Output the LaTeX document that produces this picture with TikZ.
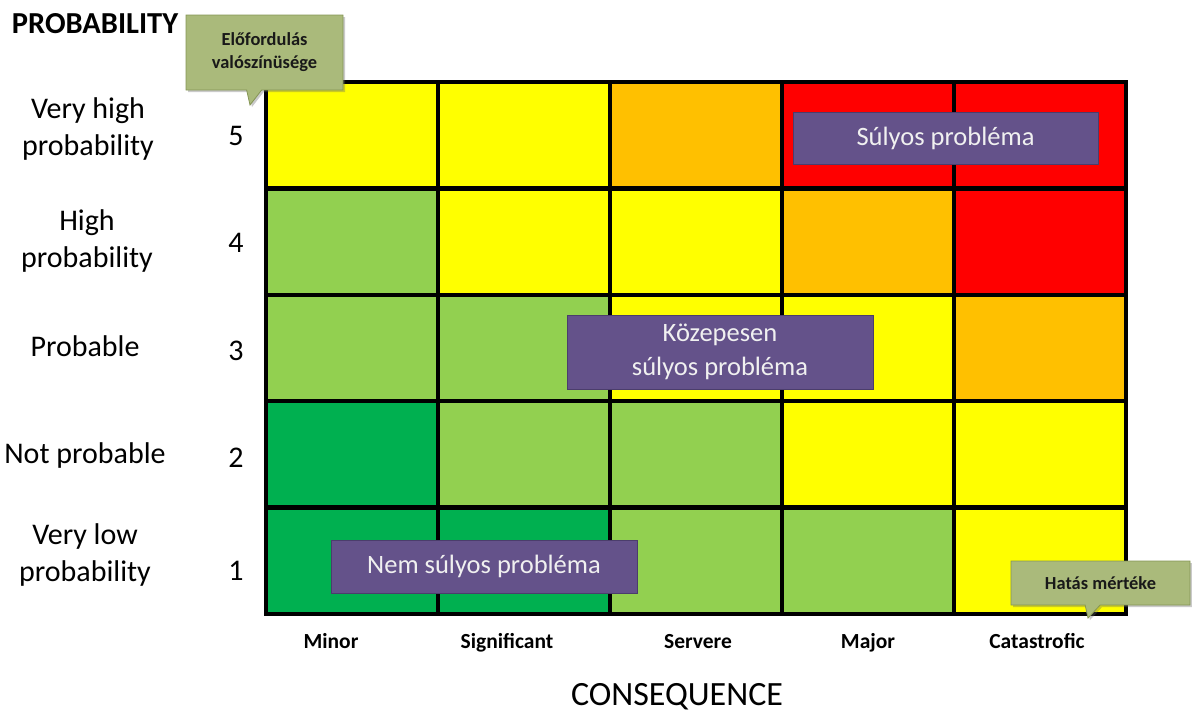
\documentclass[tikz,border=0pt]{standalone}
\usepackage{fontspec}
\setmainfont{Carlito}
\usetikzlibrary{shapes.callouts,shadows}
\definecolor{yel}{HTML}{FFFF00}
\definecolor{org}{HTML}{FFC000}
\definecolor{rd}{HTML}{FF0000}
\definecolor{lgr}{HTML}{92D050}
\definecolor{dgr}{HTML}{00B050}
\definecolor{purp}{HTML}{64528A}
\definecolor{purpline}{HTML}{4B3D6C}
\definecolor{olive}{HTML}{AABA7B}
\definecolor{oliveline}{HTML}{859555}
\tikzset{
  gridline/.style={line width=4.5pt, black},
  riskbox/.style={rectangle, fill=purp, draw=purpline, line width=0.8pt,
    text=white!94!black, align=center, inner sep=0pt,
    font=\fontsize{26.5}{34}\selectfont},
  tip/.style={rectangle callout, fill=olive, draw=oliveline, line width=0.8pt,
    callout pointer width=15pt, align=center, inner sep=0pt,
    text=black!90, font=\bfseries\fontsize{18.4}{23}\selectfont,
    drop shadow={shadow xshift=2pt, shadow yshift=-2pt, opacity=0.35, fill=black!60}},
  rowlabel/.style={align=center, inner sep=0pt, anchor=base, font=\fontsize{30}{37}\selectfont},
  level/.style={inner sep=0pt, anchor=base, font=\fontsize{30}{34}\selectfont},
  collabel/.style={inner sep=0pt, anchor=base, font=\bfseries\fontsize{21.5}{25}\selectfont},
}
% one row of the matrix: #1 = row index from the top, #2 = cell colours
\newcommand\riskrow[2]{%
  \foreach \c [count=\i from 0] in {#2}
    \fill[\c] ({266+172*\i},{82+106.4*#1}) rectangle +(172,106.4);}
\begin{document}
\begin{tikzpicture}[x=1pt,y=-1pt]
\useasboundingbox (0,0) rectangle (1192,713);

% coloured cells
\riskrow{0}{yel,yel,org,rd,rd}
\riskrow{1}{lgr,yel,yel,org,rd}
\riskrow{2}{lgr,lgr,yel,yel,org}
\riskrow{3}{dgr,lgr,lgr,yel,yel}
\riskrow{4}{dgr,dgr,lgr,lgr,yel}

% grid lines and frame
\foreach \i in {1,...,4} {
  \draw[gridline] ({266+172*\i},82) -- ++(0,532);
  \draw[gridline] (266,{82+106.4*\i}) -- ++(860,0);
}
\draw[gridline] (266,82) rectangle (1126,614);

% axis titles
\node[inner sep=0pt, anchor=base, font=\bfseries\fontsize{30.5}{34}\selectfont] (ptitle) at (95,33) {PROBABILITY};
\node[inner sep=0pt, anchor=base, font=\fontsize{34}{38}\selectfont] (ctitle) at (677,705) {CONSEQUENCE};

% probability levels (base anchor = baseline of the last line)
\node[rowlabel] (r5) at (88,155) {Very high\\probability};
\node[rowlabel] (r4) at (87,267) {High\\probability};
\node[rowlabel] (r3) at (85,356) {Probable};
\node[rowlabel] (r2) at (85,463) {Not probable};
\node[rowlabel] (r1) at (85,581) {Very low\\probability};
\node[level] (n5) at (236,145) {5};
\node[level] (n4) at (236,252) {4};
\node[level] (n3) at (236,360) {3};
\node[level] (n2) at (236,467) {2};
\node[level] (n1) at (236,580) {1};

% consequence levels
\node[collabel] (c1) at (331,648) {Minor};
\node[collabel] (c2) at (507,648) {Significant};
\node[collabel] (c3) at (698,648) {Servere};
\node[collabel] (c4) at (868,648) {Major};
\node[collabel] (c5) at (1037,648) {Catastrofic};

% risk categories
\node[riskbox, minimum width=305pt, minimum height=52pt] (high) at (945.5,138) {Súlyos probléma};
\node[riskbox, minimum width=306pt, minimum height=74pt] (mid) at (720,352) {Közepesen\\súlyos probléma};
\node[riskbox, minimum width=306pt, minimum height=53pt] (low) at (484,566.5) {Nem súlyos probléma};

% callouts
\node[tip, minimum width=157pt, minimum height=75pt,
  callout absolute pointer={(250,105)}] (ptip) at (264.5,52.5) {Előfordulás\\valószínüsége};
\node[tip, minimum width=179pt, minimum height=44pt,
  callout absolute pointer={(1088,618)}] (ctip) at (1100.5,583) {Hatás mértéke};
\end{tikzpicture}
\end{document}
